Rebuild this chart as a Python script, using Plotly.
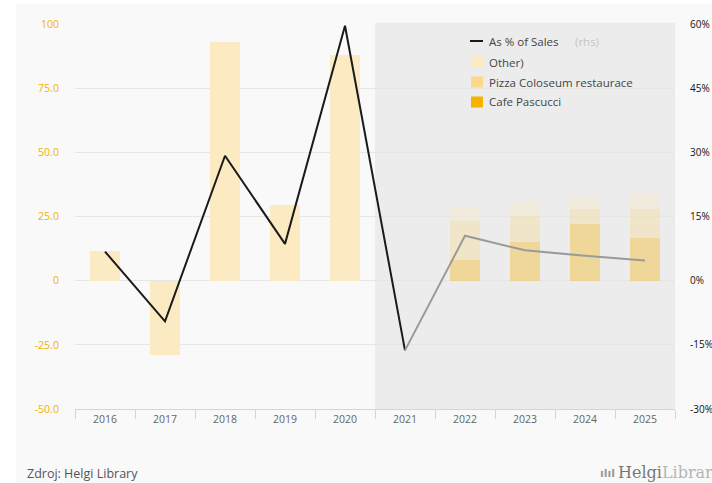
import plotly.graph_objects as go

# ---------------- data ----------------
years = ["2016", "2017", "2018", "2019", "2020", "2021", "2022", "2023", "2024", "2025"]
other = [11.5, -29.0, 93.0, 29.5, 88.0, None, 5.2, 5.6, 5.7, 5.7]
pizza_coloseum = [None, None, None, None, None, None, 15.1, 10.4, 5.7, 11.4]
cafe_pascucci = [None, None, None, None, None, None, 8.1, 14.9, 22.1, 16.7]
pct_of_sales = [6.8, -9.5, 29.2, 8.6, 59.6, -16.3, 10.5, 7.1, 5.8, 4.7]

left_ticks = [-50, -25, 0, 25, 50, 75, 100]
left_labels = ["-50.0", "-25.0", "0", "25.0", "50.0", "75.0", "100"]
right_ticks = [-30, -15, 0, 15, 30, 45, 60]
right_labels = ["-30%", "-15%", "0%", "15%", "30%", "45%", "60%"]
first_forecast = "2022"

# ---------------- styling ----------------
FONT = "Open Sans"
C_OTHER = "#fcebc2"
C_PIZZA = "#fcd98a"
C_CAFE = "#f5b300"
W, H = 712, 483
ML, MR, MT, MB = 75, 37, 24, 74
PW, PH = W - ML - MR, H - MT - MB


def px(x):
    return (x - ML) / PW


def py(y):
    return (H - MB - y) / PH


fc_idx = years.index(first_forecast)
opac = [1.0 if i < fc_idx else 0.35 for i in range(len(years))]

fig = go.Figure()
for name, vals, col in [("Cafe Pascucci", cafe_pascucci, C_CAFE),
                        ("Pizza Coloseum restaurace", pizza_coloseum, C_PIZZA),
                        ("Other)", other, C_OTHER)]:
    fig.add_trace(go.Bar(x=years, y=vals, name=name, marker=dict(color=col, opacity=opac, line=dict(width=0)),
                         showlegend=False, yaxis="y"))

split = years.index("2021")
fig.add_trace(go.Scatter(x=years[:split + 1], y=pct_of_sales[:split + 1], mode="lines",
                         line=dict(color="#1a1a1a", width=2), yaxis="y2", showlegend=False,
                         name="As % of Sales"))
fig.add_trace(go.Scatter(x=years[split:], y=pct_of_sales[split:], mode="lines",
                         line=dict(color="#9a9a9a", width=2), yaxis="y2", showlegend=False,
                         name="As % of Sales"))

shapes = [
    # white outer strips
    dict(type="rect", xref="paper", yref="paper", x0=px(0), x1=px(16), y0=py(H), y1=py(0),
         fillcolor="white", line_width=0, layer="below"),
    dict(type="rect", xref="paper", yref="paper", x0=px(0), x1=px(W), y0=py(4), y1=py(0),
         fillcolor="white", line_width=0, layer="below"),
    # forecast shading
    dict(type="rect", xref="paper", yref="paper", x0=0.5, x1=1.0, y0=0, y1=py(22.7),
         fillcolor="#ececec", line_width=0, layer="between"),
    dict(type="line", xref="paper", yref="y", x0=0.5, x1=1.0, y0=0, y1=0,
         line=dict(color="#e2e2e2", width=1), layer="between"),
    # legend symbols
    dict(type="line", xref="paper", yref="paper", x0=px(470), x1=px(483), y0=py(41), y1=py(41),
         line=dict(color="#1a1a1a", width=2)),
]
for yc, col in [(62, C_OTHER), (82, C_PIZZA), (102, C_CAFE)]:
    shapes.append(dict(type="rect", xref="paper", yref="paper", x0=px(471), x1=px(483),
                       y0=py(yc + 5.5), y1=py(yc - 5.5), fillcolor=col, line_width=0))

annotations = [
    dict(text="(rhs)", x=px(573), y=py(41), xref="paper", yref="paper", xanchor="left",
         yanchor="middle", showarrow=False, font=dict(family=FONT, size=11.5, color="#c4c4c4")),
]
for label, yc in [("As % of Sales", 41), ("Other)", 62), ("Pizza Coloseum restaurace", 82), ("Cafe Pascucci", 102)]:
    annotations.append(dict(text=label, x=px(487), y=py(yc), xref="paper", yref="paper", xanchor="left",
                            yanchor="middle", showarrow=False, font=dict(family=FONT, size=11.5, color="#444")))
annotations.append(dict(text="Zdroj: Helgi Library", x=px(25), y=py(473), xref="paper", yref="paper",
                        xanchor="left", yanchor="middle", showarrow=False,
                        font=dict(family=FONT, size=12.5, color="#555")))
annotations.append(dict(text="<span style='color:#777'>Helgi</span><span style='color:#b5b5b5'>Library</span>",
                        x=px(616), y=py(472), xref="paper", yref="paper", xanchor="left", yanchor="middle",
                        showarrow=False, font=dict(family="DejaVu Serif", size=16, color="#888")))
annotations.append(dict(text="<b>ılıl</b>", x=px(598), y=py(473), xref="paper", yref="paper",
                        xanchor="left", yanchor="middle", showarrow=False,
                        font=dict(family="DejaVu Sans", size=11, color="#999")))

fig.update_layout(
    width=W, height=H, autosize=False,
    margin=dict(l=ML, r=MR, t=MT, b=MB, pad=0),
    paper_bgcolor="#f9f9f9", plot_bgcolor="#f9f9f9",
    barmode="stack", bargap=0.5,
    font=dict(family=FONT),
    shapes=shapes, annotations=annotations,
    xaxis=dict(type="category", range=[-0.5, len(years) - 0.5], tickson="boundaries", ticks="outside",
               ticklen=9, tickcolor="#ccd6eb", tickwidth=1, showline=True, linecolor="#ccd6eb",
               linewidth=1, showgrid=False, zeroline=False, automargin=False,
               tickfont=dict(family=FONT, size=10.5, color="#666")),
    yaxis=dict(range=[-50, 100], tickvals=left_ticks, ticktext=left_labels, showgrid=True,
               gridcolor="#e6e6e6", gridwidth=1, zeroline=False, ticks="outside", ticklen=13,
               tickcolor="rgba(0,0,0,0)", automargin=False,
               tickfont=dict(family=FONT, size=10.5, color="#f2b200")),
    yaxis2=dict(range=[-30, 60], tickvals=right_ticks, ticktext=right_labels, overlaying="y",
                side="right", showgrid=False, zeroline=False, ticks="outside", ticklen=12,
                tickcolor="rgba(0,0,0,0)", automargin=False,
                tickfont=dict(family=FONT, size=10, color="#111")),
    hovermode=False,
)

fig.write_html("out.html", config={"displayModeBar": False},
               post_script="document.body.style.margin='0px';document.body.style.padding='0px';")
